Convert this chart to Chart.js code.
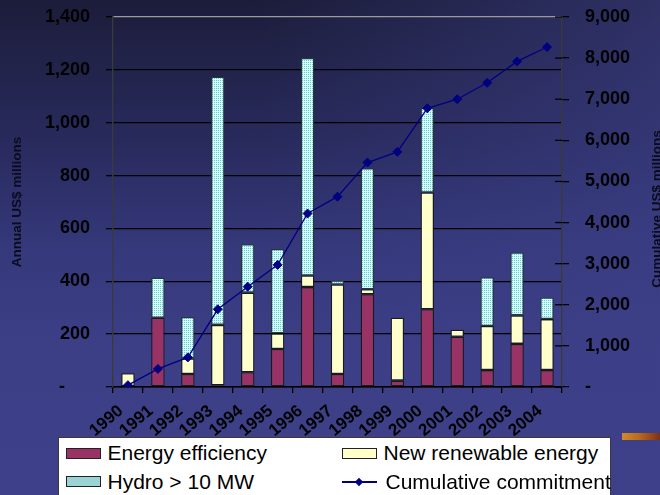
<!DOCTYPE html>
<html>
<head>
<meta charset="utf-8">
<title>Annual and cumulative commitments</title>
<script src="https://cdn.jsdelivr.net/npm/chart.js@4/dist/chart.umd.min.js"></script>
<style>
  html, body { margin: 0; padding: 0; }
  body {
    width: 660px; height: 495px; overflow: hidden; position: relative;
    background:
      linear-gradient(to right, rgba(61,64,136,0) 40%, rgba(61,64,136,0.55) 100%),
      linear-gradient(to bottom, #1c1d3a 0%, #282a5c 28%, #35387a 50%, #3c3f86 70%, #3e4189 100%);
  }
  #chart { position: absolute; left: 0; top: 0; }
  #legend {
    position: absolute; left: 58px; top: 437px; width: 553px; height: 70px;
    background: #fff; border: 1.5px solid #3a3a3a; box-sizing: border-box;
    font-family: "Liberation Sans", Arial, sans-serif; font-size: 21px; color: #000;
  }
  .item { position: absolute; display: flex; align-items: center; height: 24px; white-space: nowrap; }
  .sw { width: 35px; height: 11px; border: 1.5px solid #222; box-sizing: border-box; margin-right: 7px; }
  .ln { width: 35px; height: 11px; margin-right: 9px; position: relative; }
  .ln::before { content: ""; position: absolute; left: 0; right: 0; top: 5px; height: 1.5px; background: #000080; }
  .ln::after { content: ""; position: absolute; left: 14px; top: 2.5px; width: 6px; height: 6px; background: #000080; transform: rotate(45deg); }
  #deco { position: absolute; left: 622px; top: 433px; width: 38px; height: 7px;
    background: linear-gradient(to right, #d08a2a, #b86a1e 45%, #9a4a1c 75%, #7a3018); }
</style>
</head>
<body>
<canvas id="chart" width="660" height="495"></canvas>
<div id="legend"></div>
<div id="deco"></div>
<script>
// Commitments by year, US$ millions
const years = ['1990','1991','1992','1993','1994','1995','1996','1997','1998','1999','2000','2001','2002','2003','2004'];
const energyEfficiency = [null, 262, 49, 6, 56, 144, 378, 49, 351, 24, 294, 190, 64, 163, 64];
const newRenewable     = [52, null, 59, 229, 301, 59, 44, 339, 19, 238, 442, 27, 167, 108, 193];
const hydroLarge       = [null, 152, 157, 939, 183, 319, 823, 15, 458, null, 320, null, 184, 238, 82];
const cumulative       = [45, 440, 720, 1890, 2440, 2970, 4220, 4630, 5460, 5720, 6780, 7000, 7400, 7920, 8270];

const seriesNames = ['Energy efficiency', 'New renewable energy', 'Hydro > 10 MW', 'Cumulative commitment'];
const leftTitle = 'Annual US$ millions';
const rightTitle = 'Cumulative US$ millions';

const FONT = '"Liberation Sans", Arial, Helvetica, sans-serif';
Chart.defaults.font.family = FONT;
Chart.defaults.color = '#000';

const canvas = document.getElementById('chart');
const ctx = canvas.getContext('2d');

// dotted fill for the large hydro segments
function dotPattern() {
  const c = document.createElement('canvas');
  c.width = 2; c.height = 2;
  const g = c.getContext('2d');
  g.fillStyle = '#ccffff';
  g.fillRect(0, 0, 2, 2);
  g.fillStyle = '#80c0c0';
  g.fillRect(0, 0, 1, 1);
  return ctx.createPattern(c, 'repeat');
}
const hydroFill = dotPattern();

function thousands(v) {
  return String(v).replace(/\B(?=(\d{3})+(?!\d))/g, ',');
}
// accounting style: zero shown as a dash, padded like the digits
function accounting(v) {
  return v === 0 ? '-\u2007\u2007 ' : thousands(v);
}

// keep the wide label padding from pushing the plot area inwards
function fixedWidth(w) {
  return s => { s.width = w; s.paddingTop = 6; s.paddingBottom = 6; };
}

// short inner tick marks and the bottom-to-top title on the right axis
const rightAxisExtras = {
  id: 'rightAxisExtras',
  afterDraw(chart) {
    const s = chart.scales.y2;
    const c = chart.ctx;
    c.save();
    c.strokeStyle = '#000';
    c.lineWidth = 1.3;
    s.ticks.forEach(t => {
      const y = s.getPixelForValue(t.value);
      c.beginPath();
      c.moveTo(s.left - 7, y);
      c.lineTo(s.left, y);
      c.stroke();
    });
    c.translate(657, (s.top + s.bottom) / 2 + 7);
    c.rotate(-Math.PI / 2);
    c.font = 'bold 13.5px ' + FONT;
    c.fillStyle = '#0b0b1e';
    c.textAlign = 'center';
    c.textBaseline = 'middle';
    c.fillText(rightTitle, 0, 0);
    c.restore();
  }
};

const barCommon = {
  type: 'bar',
  yAxisID: 'y',
  borderColor: '#1a1a1a',
  borderWidth: 1.3,
  borderSkipped: false,
  categoryPercentage: 0.9,
  barPercentage: 0.5,
  order: 2
};

new Chart(ctx, {
  data: {
    labels: years,
    datasets: [
      Object.assign({}, barCommon, { label: seriesNames[0], data: energyEfficiency, backgroundColor: '#993366' }),
      Object.assign({}, barCommon, { label: seriesNames[1], data: newRenewable, backgroundColor: '#ffffcc' }),
      Object.assign({}, barCommon, { label: seriesNames[2], data: hydroLarge, backgroundColor: hydroFill, borderColor: '#263838' }),
      {
        type: 'line', label: seriesNames[3], data: cumulative, yAxisID: 'y2',
        borderColor: '#000080', borderWidth: 1.3, tension: 0,
        pointStyle: 'rectRot', pointRadius: 4.5,
        pointBackgroundColor: '#000080', pointBorderColor: '#000080', pointBorderWidth: 1,
        order: 0
      }
    ]
  },
  options: {
    responsive: false,
    animation: false,
    devicePixelRatio: 1,
    layout: { padding: { top: 17, bottom: 58, left: 0, right: 0 } },
    plugins: { legend: { display: false }, tooltip: { enabled: false } },
    scales: {
      x: {
        stacked: true,
        offset: true,
        grid: { offset: true, drawOnChartArea: false, tickLength: 6, color: '#000', lineWidth: 1.3 },
        border: { color: '#000', width: 1.5 },
        ticks: { autoSkip: false, minRotation: 40, maxRotation: 40, padding: 8, labelOffset: -7,
                 font: { size: 17, weight: 'bold' }, color: '#000' },
        afterFit(s) { s.height = 50; }
      },
      y: {
        stacked: true,
        position: 'left',
        min: 0, max: 1400,
        grid: {
          color: c => (c.tick && c.tick.value === 1400) ? '#9a9a9a' : '#000',
          tickColor: '#000',
          lineWidth: 1.3, tickLength: 7
        },
        border: { color: '#3a3a3a', width: 1.3 },
        ticks: { stepSize: 200, padding: 16, font: { size: 18, weight: 'bold' }, color: '#000',
                 callback: v => accounting(v) },
        title: { display: true, text: leftTitle, color: '#0b0b1e',
                 font: { size: 13.5, weight: 'bold' }, padding: { top: 9.4, bottom: 0 } },
        afterFit: fixedWidth(113)
      },
      y2: {
        position: 'right',
        min: 0, max: 9000,
        grid: { drawOnChartArea: false, color: '#000', lineWidth: 1.3, tickLength: 7 },
        border: { color: '#3a3a3a', width: 1.3 },
        ticks: { stepSize: 1000, padding: 16, font: { size: 18, weight: 'bold' }, color: '#000',
                 callback: v => accounting(v) },
        afterFit: fixedWidth(98)
      }
    }
  },
  plugins: [rightAxisExtras]
});

// legend box built from the series names
const legend = document.getElementById('legend');
const legendItems = [
  { name: seriesNames[0], kind: 'sw', fill: '#993366', left: 6.5, top: 3 },
  { name: seriesNames[1], kind: 'sw', fill: '#ffffcc', left: 282.5, top: 3 },
  { name: seriesNames[2], kind: 'sw', fill: 'hydro', left: 6.5, top: 31.5 },
  { name: seriesNames[3], kind: 'ln', left: 282.5, top: 31.5 }
];
legendItems.forEach(it => {
  const d = document.createElement('div');
  d.className = 'item';
  d.style.left = it.left + 'px';
  d.style.top = it.top + 'px';
  const s = document.createElement('span');
  s.className = it.kind;
  if (it.kind === 'sw') {
    if (it.fill === 'hydro') {
      s.style.backgroundColor = '#ccffff';
      s.style.backgroundImage = 'radial-gradient(#7fbcbc 0.6px, transparent 0.9px)';
      s.style.backgroundSize = '2px 2px';
    } else {
      s.style.background = it.fill;
    }
  }
  d.appendChild(s);
  d.appendChild(document.createTextNode(it.name));
  legend.appendChild(d);
});
</script>
</body>
</html>
